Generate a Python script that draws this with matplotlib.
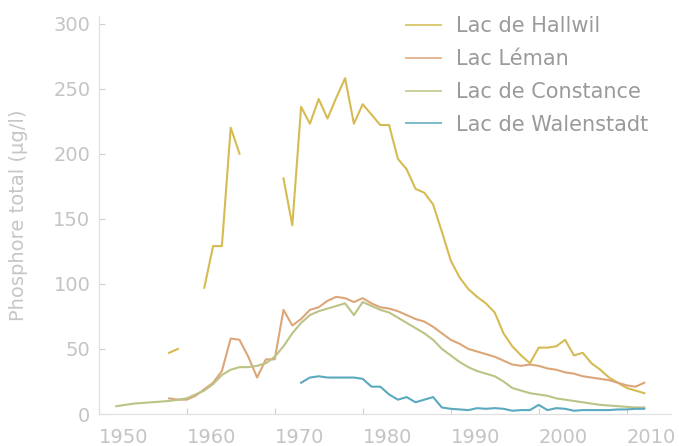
import matplotlib
matplotlib.use("Agg")
import matplotlib.pyplot as plt

plt.rcParams['font.family'] = ['DejaVu Sans']

#------------------------ datos ----------------------------

hallwil_years = [1958, 1959, None,
                 1962, 1963, 1964, 1965, 1966, None,
                 1971, 1972, 1973, 1974, 1975, 1976, 1977, 1978, 1979, 1980,
                 1981, 1982, 1983, 1984, 1985, 1986, 1987, 1988, 1989, 1990,
                 1991, 1992, 1993, 1994, 1995, 1996, 1997, 1998, 1999, 2000,
                 2001, 2002, 2003, 2004, 2005, 2006, 2007, 2008, 2009, 2010,
                 2011, 2012]
hallwil_vals = [47, 50, None,
                97, 129, 129, 220, 200, None,
                181, 145, 236, 223, 242, 227, 243, 258, 223, 238,
                230, 222, 222, 196, 188, 173, 170, 161, 140, 118,
                105, 96, 90, 85, 78, 62, 52, 45, 39, 51,
                51, 52, 57, 45, 47, 39, 34, 28, 24, 20,
                18, 16]

leman_years = list(range(1958, 2013))
leman_vals = [12, 11, 11, 14, 19, 24, 33, 58, 57, 44,
              28, 42, 42, 80, 68, 73, 80, 82, 87, 90,
              89, 86, 89, 85, 82, 81, 79, 76, 73, 71,
              67, 62, 57, 54, 50, 48, 46, 44, 41, 38,
              37, 38, 37, 35, 34, 32, 31, 29, 28, 27,
              26, 24, 22, 21, 24]

constance_years = list(range(1952, 2013))
constance_vals = [6, 7, 8, 8.5, 9, 9.5, 10, 11, 12, 15,
                  18, 23, 30, 34, 36, 36, 37, 39, 44, 52,
                  62, 70, 76, 79, 81, 83, 85, 76, 86, 83,
                  80, 78, 74, 70, 66, 62, 57, 50, 45, 40,
                  36, 33, 31, 29, 25, 20, 18, 16, 15, 14,
                  12, 11, 10, 9, 8, 7, 6.5, 6, 5.5, 5,
                  5]

walen_years = list(range(1973, 2013))
walen_vals = [24, 28, 29, 28, 28, 28, 28, 27, 21, 21,
              15, 11, 13, 9, 11, 13, 5, 4, 3.5, 3,
              4.5, 4, 4.5, 4, 2.5, 3, 3, 7, 3, 4.5,
              4, 2.5, 3, 3, 3, 3, 3.5, 3.5, 4, 4]

series = [
    ("Lac de Hallwil", hallwil_years, hallwil_vals, "#d6bb52"),
    ("Lac Léman", leman_years, leman_vals, "#dca679"),
    ("Lac de Constance", constance_years, constance_vals, "#bcc385"),
    ("Lac de Walenstadt", walen_years, walen_vals, "#5ba9bf"),
]

yticks = [0, 50, 100, 150, 200, 250, 300]
xticks = [1950, 1960, 1970, 1980, 1990, 2000, 2010]

#-------------------------- grafico ------------------------------

W, H = 679, 446
fig = plt.figure(figsize=(W / 100, H / 100), dpi=100)
ax = fig.add_axes([98.7 / W, (H - 414) / H, 572 / W, 398.3 / H])

for name, xs, ys, col in series:
    xx = [float('nan') if v is None else v for v in xs]
    yy = [float('nan') if v is None else v for v in ys]
    ax.plot(xx, yy, color=col, lw=1.5, label=name, solid_joinstyle='round')

ax.set_xlim(1950, 2015)
ax.set_ylim(0, 306)
ax.set_xticks(xticks)
ax.set_yticks(yticks)

for s in ['top', 'right']:
    ax.spines[s].set_visible(False)
for s in ['left', 'bottom']:
    ax.spines[s].set_color('#e0e0e0')
    ax.spines[s].set_linewidth(0.9)

ax.tick_params(direction='in', length=4, width=0.8, color='#d0d0d0',
               labelcolor='#c4c4c4', labelsize=14)
ax.tick_params(axis='y', pad=6)
ax.tick_params(axis='x', pad=10)
for lbl in ax.get_xticklabels():
    lbl.set_ha('left')

ax.set_ylabel("Phosphore total (µg/l)", color='#c6c6c6', fontsize=14)
ax.yaxis.set_label_coords(-0.124, 0.5)

leg = ax.legend(loc='upper left', bbox_to_anchor=(406 / W, 1 - 16 / H),
                bbox_transform=fig.transFigure, frameon=False,
                prop={'size': 15},
                handlelength=1.7, handletextpad=0.72,
                labelspacing=0.62, borderpad=0, borderaxespad=0)
for t in leg.get_texts():
    t.set_color('#9a9a9a')
for h in leg.get_lines():
    h.set_linewidth(1.4)
    h.set_alpha(0.8)

fig.savefig("out.png", dpi=100)
